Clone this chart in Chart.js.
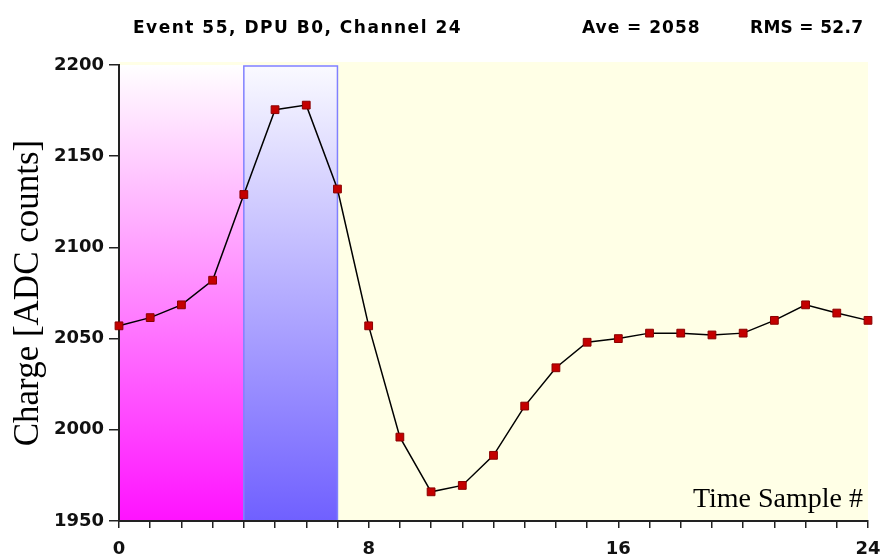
<!DOCTYPE html>
<html>
<head>
<meta charset="utf-8">
<title>Event 55 pulse</title>
<script src="https://cdn.jsdelivr.net/npm/chart.js@4/dist/chart.umd.min.js"></script>
<style>
  html, body { margin: 0; padding: 0; background: #fff; }
  #wrap { width: 883px; height: 558px; }
</style>
</head>
<body>
<div id="wrap"><canvas id="pulseChart" width="883" height="558"></canvas></div>
<script>
// time samples and ADC charge
var samples = [0, 1, 2, 3, 4, 5, 6, 7, 8, 9, 10, 11, 12, 13, 14, 15, 16, 17, 18, 19, 20, 21, 22, 23, 24];
var charge = [2057, 2061.5, 2068.5, 2082, 2129, 2175.5, 2178, 2132, 2057, 1996, 1966, 1969.5,
              1986, 2013, 2034, 2048, 2050, 2053, 2053, 2052, 2053, 2060, 2068.5, 2064, 2060];
var xTickLabels = [0, 8, 16, 24];
var yRange = [1950, 2200];
var pedestalRange = [0, 4];   // magenta band
var peakRange = [4, 7];       // blue box
var titleText = 'Event 55, DPU B0, Channel 24';
var aveText = 'Ave = 2058';
var rmsText = 'RMS = 52.7';
var xTitle = 'Time Sample #';
var yTitle = 'Charge [ADC counts]';

var tickFont = { family: 'DejaVu Sans', size: 18, weight: 'bold' };

var bands = {
  id: 'bands',
  beforeDraw: function(chart) {
    var c = chart.ctx, a = chart.chartArea, xs = chart.scales.x;
    c.save();
    c.fillStyle = '#ffffe6';
    c.fillRect(a.left, a.top - 3, a.right - a.left, a.bottom - a.top + 3);

    var p0 = xs.getPixelForValue(pedestalRange[0]);
    var p1 = xs.getPixelForValue(pedestalRange[1]);
    var g = c.createLinearGradient(0, a.top, 0, a.bottom);
    g.addColorStop(0, '#ffffff');
    g.addColorStop(1, '#ff12ff');
    c.fillStyle = g;
    c.fillRect(p0, a.top, p1 - p0, a.bottom - a.top);

    var k0 = xs.getPixelForValue(peakRange[0]);
    var k1 = xs.getPixelForValue(peakRange[1]);
    var g2 = c.createLinearGradient(0, a.top, 0, a.bottom);
    g2.addColorStop(0, '#fafaff');
    g2.addColorStop(1, '#7060ff');
    c.fillStyle = g2;
    c.fillRect(k0, a.top, k1 - k0, a.bottom - a.top);
    c.strokeStyle = '#8080ff';
    c.lineWidth = 1.5;
    c.strokeRect(k0, a.top + 1, k1 - k0, a.bottom - a.top - 1);
    c.restore();
  },
  afterDraw: function(chart) {
    var c = chart.ctx, a = chart.chartArea;
    c.save();
    c.fillStyle = '#000';
    c.textBaseline = 'alphabetic';
    c.font = 'bold 17px "DejaVu Sans"';
    c.textAlign = 'left';
    c.letterSpacing = '1.5px';
    c.fillText(titleText, 133, 33);
    c.letterSpacing = '1px';
    c.fillText(aveText, 582, 33);
    c.letterSpacing = '0.3px';
    c.fillText(rmsText, 750, 33);
    c.letterSpacing = '0px';
    c.font = '28px "Liberation Serif"';
    c.textAlign = 'right';
    c.fillText(xTitle, a.right - 5, a.bottom - 14);
    c.restore();
  }
};

var chart = new Chart(document.getElementById('pulseChart'), {
  type: 'line',
  data: {
    labels: samples,
    datasets: [{
      data: charge,
      borderColor: '#000',
      borderWidth: 1.5,
      tension: 0,
      pointStyle: 'rect',
      pointRadius: 5.5,
      pointBackgroundColor: '#c40000',
      pointBorderColor: '#8a0000',
      pointBorderWidth: 1,
      clip: false
    }]
  },
  options: {
    responsive: false,
    animation: false,
    layout: { padding: { top: 65, right: 15, left: 0, bottom: 0 } },
    plugins: { legend: { display: false }, tooltip: { enabled: false } },
    scales: {
      x: {
        type: 'linear',
        min: samples[0],
        max: samples[samples.length - 1],
        afterFit: function(s) { s.height = 37; s.paddingRight = 0; s.paddingLeft = 0; },
        border: { color: '#222', width: 2 },
        grid: { drawOnChartArea: false, tickLength: 7, color: '#222', lineWidth: 1.5 },
        ticks: {
          stepSize: 1, autoSkip: false, maxRotation: 0, padding: 11,
          color: '#111', font: tickFont,
          callback: function(v) { return xTickLabels.indexOf(v) >= 0 ? String(v) : ''; }
        }
      },
      y: {
        min: yRange[0],
        max: yRange[1],
        afterFit: function(s) { s.width = 119; },
        border: { color: '#222', width: 2 },
        grid: { drawOnChartArea: false, tickLength: 10, color: '#222', lineWidth: 1.5 },
        ticks: {
          stepSize: 50, padding: 5, color: '#111', font: tickFont,
          callback: function(v) { return String(v); }
        },
        title: {
          display: true, text: yTitle, color: '#000', padding: { top: 8, bottom: 0 },
          font: { family: 'Liberation Serif', size: 35, weight: 'normal', lineHeight: 1.2 }
        }
      }
    }
  },
  plugins: [bands]
});
</script>
</body>
</html>
